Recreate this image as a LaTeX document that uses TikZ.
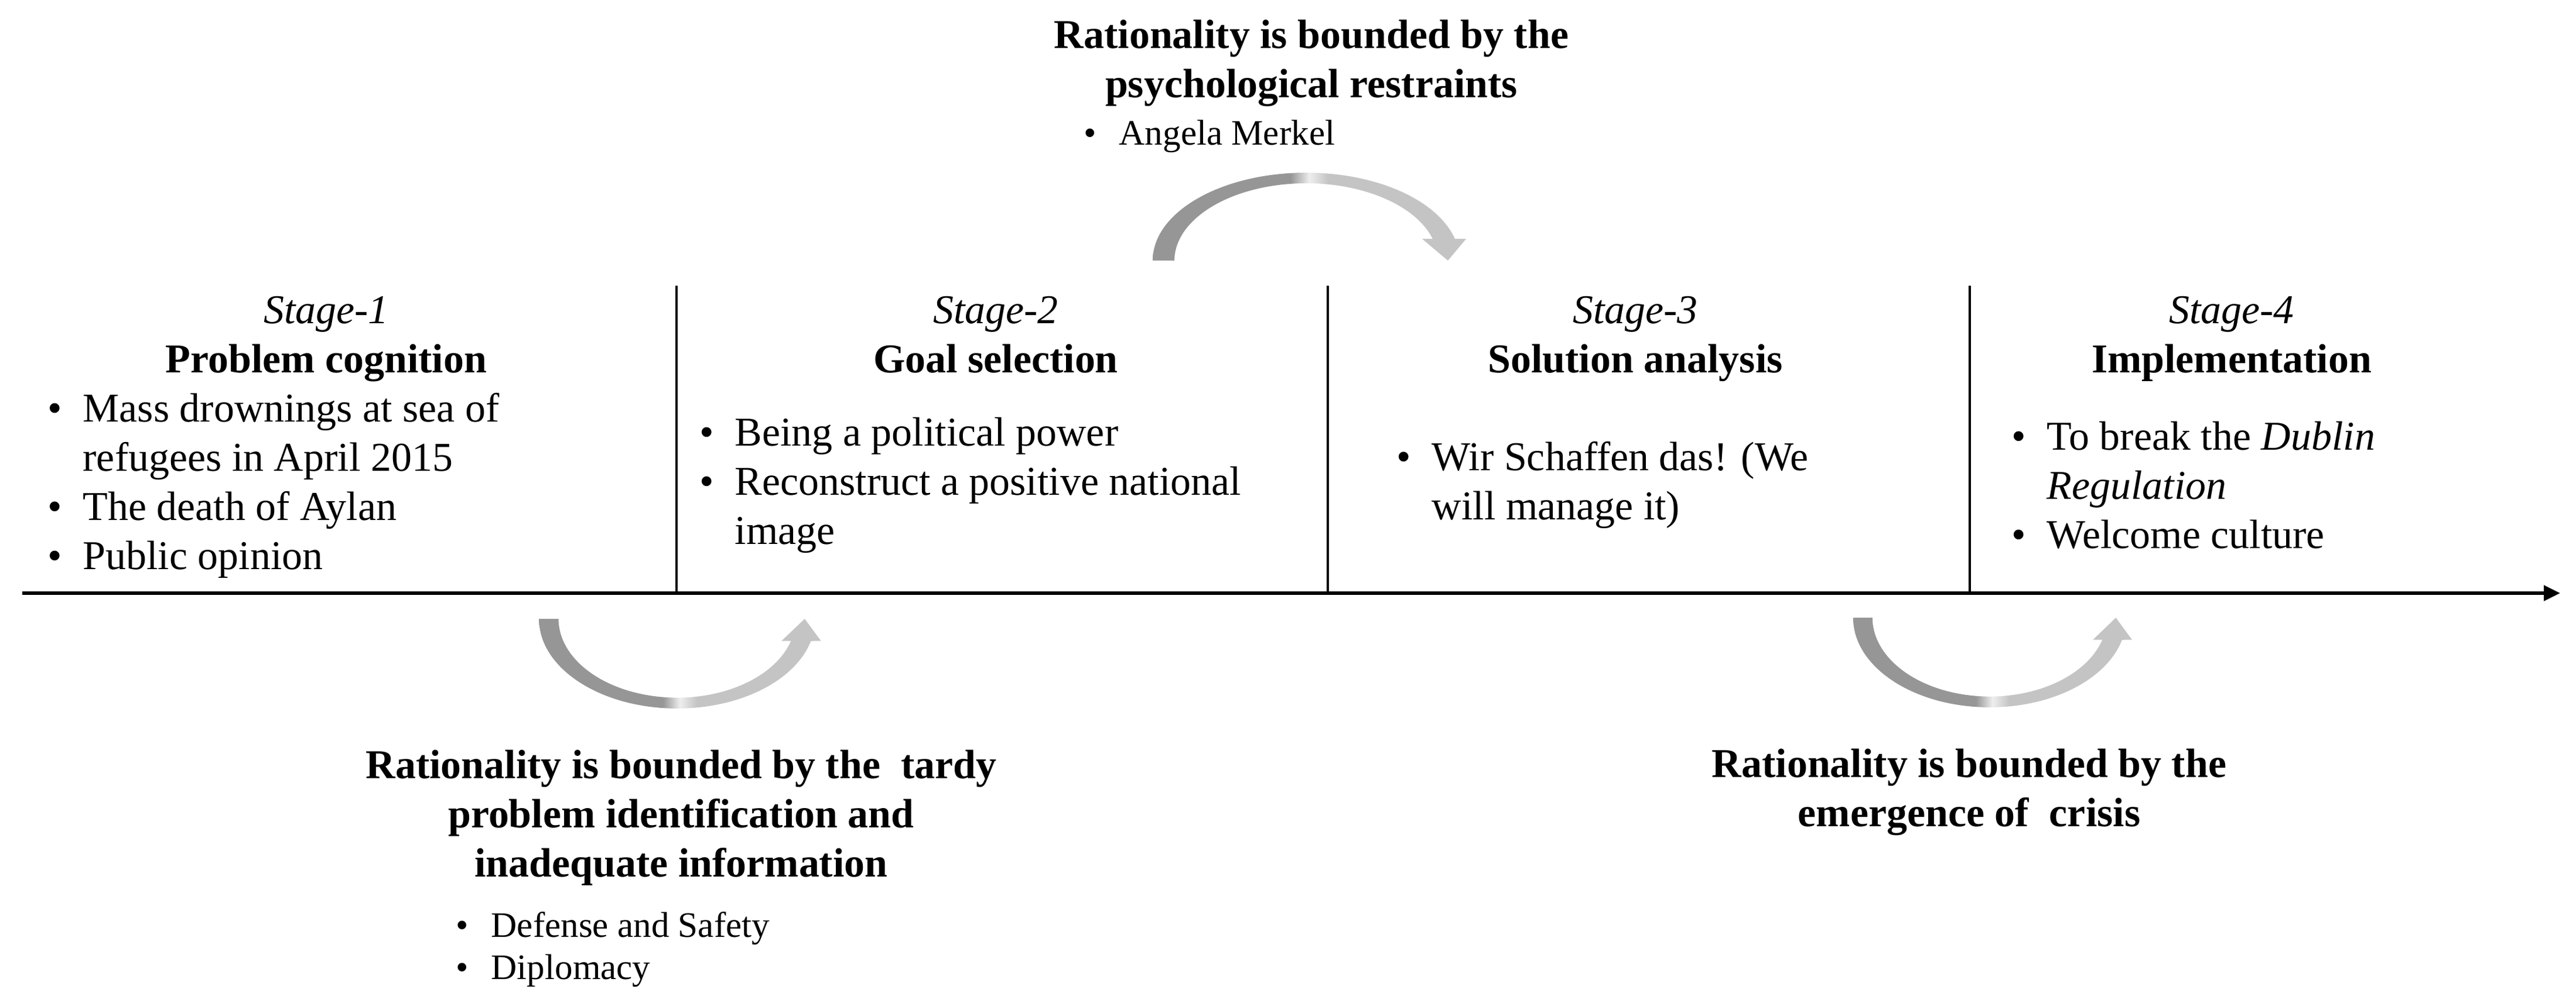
\documentclass[tikz,border=0pt]{standalone}
\usepackage{fontspec}
\setmainfont{Liberation Serif}
\usetikzlibrary{arrows.meta}

\definecolor{arcdark}{RGB}{150,150,150}
\definecolor{arclight}{RGB}{196,196,196}
\definecolor{arcseam}{RGB}{238,238,238}
\pgfdeclarehorizontalshading{arcshade}{100bp}{color(0bp)=(arcdark); color(47bp)=(arcdark); color(50bp)=(arcseam); color(53bp)=(arclight); color(100bp)=(arclight)}

\newcommand{\bigtxt}{\fontsize{19.9pt}{23.9pt}\selectfont}
\newcommand{\smalltxt}{\fontsize{17.4pt}{20.7pt}\selectfont}
\newcommand{\bpt}{\makebox[0.6cm][l]{\textbullet}}
\newcommand{\bgap}{\hspace*{0.6cm}}

\tikzset{
  stagetxt/.style={align=center,anchor=base,inner sep=0pt,font=\bigtxt},
  listtxt/.style={align=left,anchor=base west,inner sep=0pt,font=\bigtxt},
  smalllist/.style={align=left,anchor=base west,inner sep=0pt,font=\smalltxt},
  boundtxt/.style={align=center,anchor=base,inner sep=0pt,font=\bigtxt\bfseries},
  divider/.style={line width=1.1pt},
  arcarrow/.pic={
    \shade[shading=arcshade] (-2.62,0) arc[start angle=180,end angle=14.3,x radius=2.62,y radius=1.50]
      -- (2.73,0.37) -- (2.42,0) -- (1.98,0.37) -- (2.16,0.37)
      arc[start angle=16.3,end angle=180,x radius=2.25,y radius=1.32] -- cycle;
  }
}

\begin{document}
\begin{tikzpicture}
\useasboundingbox (0,0) rectangle (43.98,17.13);

% time line
\coordinate(o) at (0.38,7.00);
\coordinate(e) at (43.71,7.00);
\draw[line width=1.5pt,-{Triangle[length=0.28cm,width=0.26cm]}] (o) -- (e);

\draw[divider] (11.55,7.00) -- (11.55,12.25);
\draw[divider] (22.67,7.00) -- (22.67,12.25);
\draw[divider] (33.63,7.00) -- (33.63,12.25);

% stages (base = last line)
\node[stagetxt](s1) at (5.57,10.76) {\textit{Stage-1}\\\textbf{Problem cognition}};
\node[stagetxt](s2) at (17.00,10.76) {\textit{Stage-2}\\\textbf{Goal selection}};
\node[stagetxt](s3) at (27.92,10.76) {\textit{Stage-3}\\\textbf{Solution analysis}};
\node[stagetxt](s4) at (38.10,10.76) {\textit{Stage-4}\\\textbf{Implementation}};

\node[listtxt](l1) at (0.81,7.40) {\bpt Mass drownings at sea of\\\bgap refugees in April 2015\\\bpt The death of Aylan\\\bpt Public opinion};
\node[listtxt](l2) at (11.94,7.83) {\bpt Being a political power\\\bpt Reconstruct a positive national\\\bgap image};
\node[listtxt](l3) at (23.84,8.25) {\bpt Wir Schaffen das! (We\\\bgap will manage it)};
\node[listtxt](l4) at (34.34,7.76) {\bpt To break the \textit{Dublin}\\\bgap\textit{Regulation}\\\bpt Welcome culture};

% bounds
\pic at (22.30,12.68) {arcarrow};
\node[boundtxt](b1) at (22.39,15.46) {Rationality is bounded by the\\psychological restraints};
\node[smalllist](m1) at (18.50,14.65) {\bpt Angela Merkel};

\pic[xscale=0.9,yscale=-1.02] at (11.56,6.56) {arcarrow};
\node[boundtxt](b2) at (11.63,2.15) {Rationality is bounded by the\ \ tardy\\problem identification and\\inadequate information};
\node[smalllist](m2) at (7.78,0.40) {\bpt Defense and Safety\\\bpt Diplomacy};

\pic[xscale=0.89,yscale=-1.02] at (33.97,6.58) {arcarrow};
\node[boundtxt](b3) at (33.62,3.01) {Rationality is bounded by the\\emergence of\ \ crisis};

\end{tikzpicture}
\end{document}
